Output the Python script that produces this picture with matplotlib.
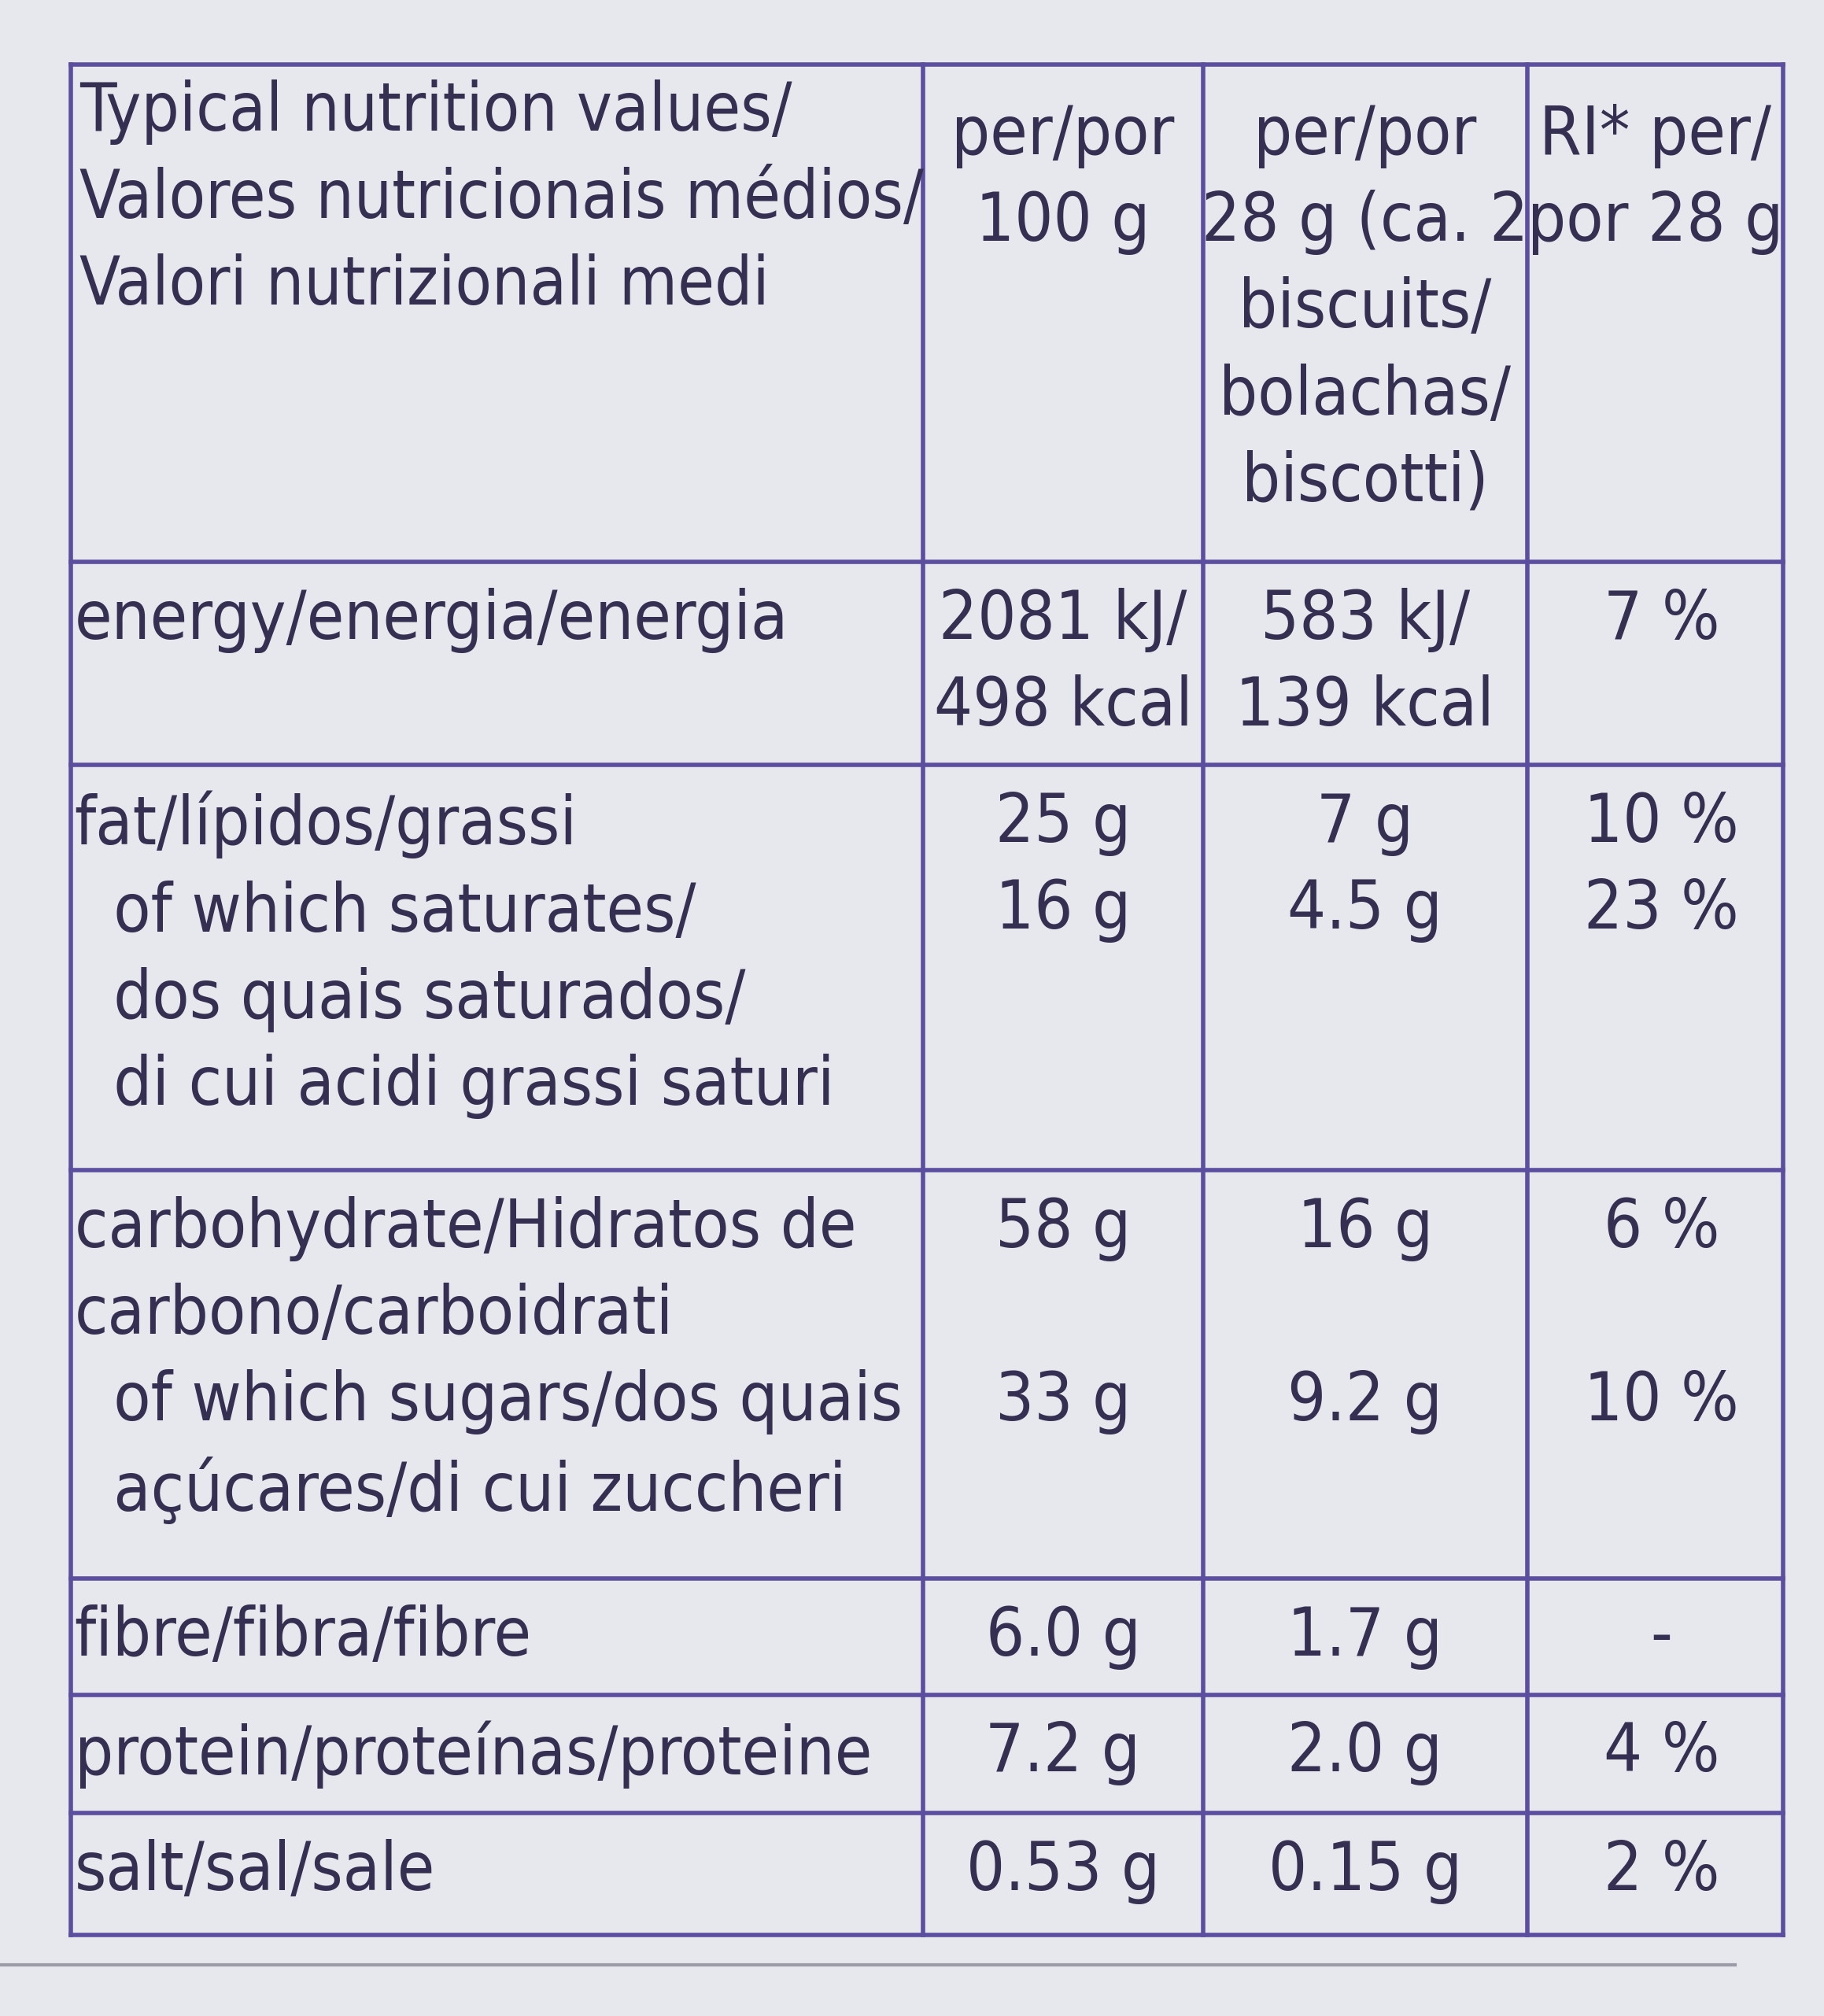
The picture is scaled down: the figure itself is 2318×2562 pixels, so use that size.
import matplotlib
matplotlib.use("Agg")
import matplotlib.pyplot as plt

header = ["Typical nutrition values/\nValores nutricionais médios/\nValori nutrizionali medi",
          "per/por\n100 g",
          "per/por\n28 g (ca. 2\nbiscuits/\nbolachas/\nbiscotti)",
          "RI* per/\npor 28 g"]
nutrients = ["energy/energia/energia",
             "fat/lípidos/grassi\n  of which saturates/\n  dos quais saturados/\n  di cui acidi grassi saturi",
             "carbohydrate/Hidratos de\ncarbono/carboidrati\n  of which sugars/dos quais\n  açúcares/di cui zuccheri",
             "fibre/fibra/fibre",
             "protein/proteínas/proteine",
             "salt/sal/sale"]
per100 = ["2081 kJ/\n498 kcal", "25 g\n16 g", "58 g\n\n33 g", "6.0 g", "7.2 g", "0.53 g"]
per28 = ["583 kJ/\n139 kcal", "7 g\n4.5 g", "16 g\n\n9.2 g", "1.7 g", "2.0 g", "0.15 g"]
ri = ["7 %", "10 %\n23 %", "6 %\n\n10 %", "-", "4 %", "2 %"]

W, H = 1419, 1568
fig = plt.figure(figsize=(23.18, 25.62), dpi=100)
fig.patch.set_facecolor("#e6e8ee")
ax = fig.add_axes([0, 0, 1, 1])
ax.set_xlim(0, W); ax.set_ylim(H, 0); ax.axis("off")

lc = "#5b4e9e"; tc = "#353052"
fam = "DejaVu Sans"
fs = 62
left, right, top, bottom = 55, 1387, 50, 1505
cols = [left, 718, 936, 1188, right]
rows = [top, 437, 595, 910, 1228, 1318, 1410, bottom]
lw = 4
for y in rows:
    ax.plot([left, right], [y, y], color=lc, lw=lw)
for x in cols:
    ax.plot([x, x], [top, bottom], color=lc, lw=lw)
ax.plot([0, 1350], [1528, 1528], color="#9a9aa8", lw=3)

ls = 1.42
def put(x, y, s, ha, size=fs):
    ax.text(x, y, s, ha=ha, va="top", fontsize=size, color=tc, family=fam,
            fontstretch="condensed", linespacing=ls)

put(62, 62, header[0], "left", 61)
for i in range(1, 4):
    put((cols[i] + cols[i + 1]) / 2, 80, header[i], "center")
for r in range(len(nutrients)):
    y = rows[r + 1] + 20
    put(58, y, nutrients[r], "left")
    put((cols[1] + cols[2]) / 2, y, per100[r], "center")
    put((cols[2] + cols[3]) / 2, y, per28[r], "center")
    put((cols[3] + cols[4]) / 2 + 5, y, ri[r], "center")

fig.savefig("out.png", dpi=100, facecolor=fig.get_facecolor())
